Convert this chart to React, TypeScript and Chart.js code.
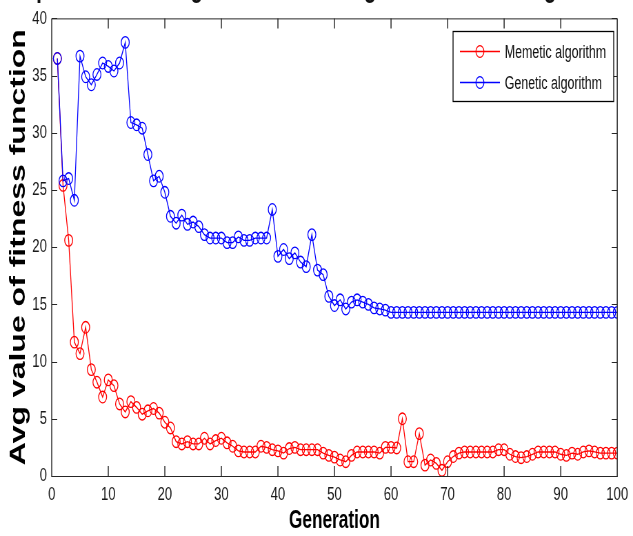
import { useEffect, useRef } from "react";
import { Chart, registerables } from "chart.js";

Chart.register(...registerables);

// ---------------- data ----------------
const titleText = "Comparison of average values of the algorithms for Rastrigin's function";
const xTitle = "Generation";
const yTitle = "Avg value of fitness function";
const seriesNames = ["Memetic algorithm", "Genetic algorithm"];

// average fitness per generation (generation 1..100)
const memetic = [
  36.5, 25.4, 20.6, 11.7, 10.7, 13.0, 9.3, 8.2, 6.9, 8.4,
  7.9, 6.3, 5.6, 6.5, 6.0, 5.4, 5.7, 5.9, 5.5, 4.7,
  4.2, 3.0, 2.8, 3.0, 2.8, 2.8, 3.3, 2.8, 3.1, 3.3,
  2.9, 2.6, 2.2, 2.1, 2.1, 2.1, 2.6, 2.5, 2.3, 2.2,
  2.0, 2.4, 2.5, 2.3, 2.3, 2.3, 2.3, 2.0, 1.8, 1.65,
  1.4, 1.25, 1.8, 2.1, 2.1, 2.1, 2.1, 2.0, 2.5, 2.5,
  2.45, 5.0, 1.25, 1.25, 3.7, 0.95, 1.4, 1.1, 0.5, 1.25,
  1.7, 2.0, 2.1, 2.1, 2.1, 2.1, 2.1, 2.1, 2.3, 2.3,
  1.9, 1.7, 1.6, 1.7, 1.9, 2.1, 2.1, 2.1, 2.1, 1.9,
  1.8, 2.0, 1.9, 2.1, 2.2, 2.1, 2.0, 2.0, 2.0, 2.0,
];

const genetic = [
  36.5, 25.8, 26.0, 24.1, 36.7, 34.9, 34.2, 35.1, 36.1, 35.8,
  35.4, 36.1, 37.9, 30.9, 30.7, 30.4, 28.1, 25.8, 26.2, 24.8,
  22.7, 22.1, 22.8, 22.0, 22.2, 21.8, 21.1, 20.8, 20.8, 20.8,
  20.4, 20.4, 20.9, 20.6, 20.6, 20.8, 20.8, 20.8, 23.3, 19.2,
  19.8, 19.0, 19.5, 18.7, 18.3, 21.1, 18.0, 17.6, 15.7, 14.9,
  15.4, 14.6, 15.2, 15.4, 15.2, 15.0, 14.7, 14.6, 14.5, 14.3,
  14.3, 14.3, 14.3, 14.3, 14.3, 14.3, 14.3, 14.3, 14.3, 14.3,
  14.3, 14.3, 14.3, 14.3, 14.3, 14.3, 14.3, 14.3, 14.3, 14.3,
  14.3, 14.3, 14.3, 14.3, 14.3, 14.3, 14.3, 14.3, 14.3, 14.3,
  14.3, 14.3, 14.3, 14.3, 14.3, 14.3, 14.3, 14.3, 14.3, 14.3,
];

const xTicks = [0, 10, 20, 30, 40, 50, 60, 70, 80, 90, 100];
const yTicks = [0, 5, 10, 15, 20, 25, 30, 35, 40];
const seriesColors = ["#ff0000", "#0000ff"];

// ---------------- layout (internal canvas is wider, squeezed by CSS) ----------------
const SX = 1.45;
const CW = Math.round(633 * SX);
const CH = 536;
const FONT = "'Liberation Sans', Arial, sans-serif";

const framePlugin = {
  id: "frame",
  afterDatasetsDraw(chart: any) {
    const { ctx, chartArea } = chart;
    const { left, right, top, bottom } = chartArea;
    const xs = chart.scales.x;
    const ys = chart.scales.y;
    ctx.save();
    ctx.strokeStyle = "#262626";
    ctx.lineWidth = 1;
    ctx.beginPath();
    ctx.moveTo(left, top + 0.5);
    ctx.lineTo(right, top + 0.5);
    ctx.moveTo(left, bottom + 0.5);
    ctx.lineTo(right, bottom + 0.5);
    ctx.stroke();
    ctx.lineWidth = SX;
    ctx.beginPath();
    ctx.moveTo(left, top);
    ctx.lineTo(left, bottom + 1);
    ctx.moveTo(right, top);
    ctx.lineTo(right, bottom + 1);
    xTicks.forEach((v) => {
      const px = xs.getPixelForValue(v);
      ctx.moveTo(px, bottom);
      ctx.lineTo(px, bottom - 10);
      ctx.moveTo(px, top);
      ctx.lineTo(px, top + 10);
    });
    ctx.stroke();
    ctx.lineWidth = 1;
    ctx.beginPath();
    yTicks.forEach((v) => {
      const py = Math.round(ys.getPixelForValue(v)) + 0.5;
      ctx.moveTo(left, py);
      ctx.lineTo(left + 8, py);
      ctx.moveTo(right, py);
      ctx.lineTo(right - 8, py);
    });
    ctx.stroke();
    ctx.restore();
  },
  afterDraw(chart: any) {
    const { ctx } = chart;
    ctx.save();
    // title, mostly cut off at the top edge
    ctx.font = `bold 29px ${FONT}`;
    ctx.fillStyle = "#111";
    ctx.textBaseline = "alphabetic";
    ctx.textAlign = "left";
    ctx.fillText(titleText, -12, -3);

    // legend
    const bx = 657, by = 31, bw = 233, bh = 70;
    ctx.fillStyle = "#ffffff";
    ctx.fillRect(bx, by, bw, bh);
    ctx.strokeStyle = "#000";
    ctx.lineWidth = 1.3;
    ctx.strokeRect(bx, by + 0.5, bw, bh);
    const rows = [51.5, 82.5];
    seriesNames.forEach((name, i) => {
      const y = rows[i];
      ctx.strokeStyle = seriesColors[i];
      ctx.lineWidth = 1.3;
      ctx.beginPath();
      ctx.moveTo(667, y);
      ctx.lineTo(725, y);
      ctx.stroke();
      ctx.beginPath();
      ctx.arc(696, y, 5.8, 0, Math.PI * 2);
      ctx.stroke();
      ctx.fillStyle = "#111";
      ctx.font = `18px ${FONT}`;
      ctx.textBaseline = "alphabetic";
      ctx.fillText(name, 732, y + 6);
    });
    ctx.restore();
  },
};

export default function App() {
  const ref = useRef<HTMLCanvasElement | null>(null);

  useEffect(() => {
    document.body.style.margin = "0";
    const canvas = ref.current;
    if (!canvas) return;
    const makeDs = (vals: number[], i: number, order: number) => ({
      label: seriesNames[i],
      data: vals.map((v, k) => ({ x: k + 1, y: v })),
      borderColor: seriesColors[i],
      backgroundColor: "rgba(0,0,0,0)",
      pointBackgroundColor: "rgba(0,0,0,0)",
      pointBorderColor: seriesColors[i],
      pointRadius: 5.8,
      pointBorderWidth: 1.3,
      borderWidth: 1.3,
      tension: 0,
      order,
    });
    const chart = new Chart(canvas, {
      type: "line",
      data: {
        datasets: [makeDs(memetic, 0, 1), makeDs(genetic, 1, 0)],
      },
      options: {
        responsive: false,
        animation: false,
        devicePixelRatio: 1,
        layout: { padding: { top: 18, right: CW - 898, left: 0, bottom: 0 } },
        plugins: { legend: { display: false }, tooltip: { enabled: false }, title: { display: false } },
        scales: {
          x: {
            type: "linear",
            min: 0,
            max: 100,
            afterFit: (s: any) => {
              s.height = CH - 476;
            },
            afterBuildTicks: (s: any) => {
              s.ticks = xTicks.map((v) => ({ value: v }));
            },
            grid: { display: false, drawTicks: false },
            border: { display: false },
            ticks: {
              padding: 7,
              color: "#1a1a1a",
              font: { family: FONT, size: 19 },
              maxRotation: 0,
              autoSkip: false,
            },
            title: {
              display: true,
              text: xTitle,
              color: "#000",
              font: { family: FONT, size: 25, weight: "bold" },
              padding: { top: 0, bottom: 0 },
            },
          },
          y: {
            min: 0,
            max: 40,
            afterFit: (s: any) => {
              s.width = 75;
            },
            afterBuildTicks: (s: any) => {
              s.ticks = yTicks.map((v) => ({ value: v }));
            },
            grid: { display: false, drawTicks: false },
            border: { display: false },
            ticks: {
              padding: 7,
              color: "#1a1a1a",
              font: { family: FONT, size: 19 },
              autoSkip: false,
            },
            title: {
              display: true,
              text: yTitle,
              color: "#000",
              font: { family: FONT, size: 32, weight: "bold", lineHeight: 1 },
              padding: { top: 11, bottom: 0 },
            },
          },
        },
      },
      plugins: [framePlugin],
    } as any);
    return () => chart.destroy();
  }, []);

  return (
    <canvas
      ref={ref}
      width={CW}
      height={CH}
      style={{ width: "633px", height: "536px", display: "block" }}
    />
  );
}
